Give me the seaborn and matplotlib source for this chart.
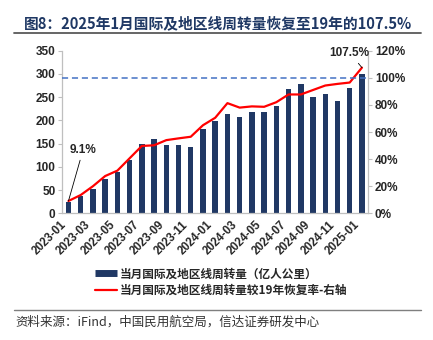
import numpy as np
import pandas as pd
import matplotlib
matplotlib.use("Agg")
import matplotlib.pyplot as plt
from matplotlib.lines import Line2D
from matplotlib.ticker import FuncFormatter, FixedLocator
import seaborn as sns

months = ["2023-01", "2023-02", "2023-03", "2023-04", "2023-05", "2023-06", "2023-07",
          "2023-08", "2023-09", "2023-10", "2023-11", "2023-12", "2024-01", "2024-02",
          "2024-03", "2024-04", "2024-05", "2024-06", "2024-07", "2024-08", "2024-09",
          "2024-10", "2024-11", "2024-12", "2025-01"]
volume = [25, 37, 52, 74, 88, 115, 149, 159, 147, 148, 143, 181, 199,
          214, 208, 218, 219, 232, 268, 279, 250, 256, 242, 269, 300]
recovery = [0.091, 0.135, 0.20, 0.275, 0.315, 0.406, 0.497, 0.502, 0.54, 0.553, 0.565,
            0.65, 0.705, 0.813, 0.78, 0.789, 0.786, 0.82, 0.877, 0.877, 0.91, 0.943,
            0.955, 0.965, 1.075]
left_ticks = [0, 50, 100, 150, 200, 250, 300, 350]
right_ticks = [0, 0.2, 0.4, 0.6, 0.8, 1.0, 1.2]

title = "图8：2025年1月国际及地区线周转量恢复至19年的107.5%"
bar_label = "当月国际及地区线周转量（亿人公里）"
line_label = "当月国际及地区线周转量较19年恢复率-右轴"
source = "资料来源：iFind，中国民用航空局，信达证券研发中心"

sns.set_theme(style="white")
plt.rcParams["font.family"] = ["Liberation Sans", "Noto Sans CJK SC", "DejaVu Sans"]

NAVY = "#203864"
RED = "#FF0000"
GREY = "#BFBFBF"

df = pd.DataFrame({"month": months, "volume": volume, "recovery": recovery})
df["pos"] = np.arange(len(df))

fig = plt.figure(figsize=(4.33, 3.40), dpi=100)
ax = fig.add_axes([0.144, 0.3726, 0.706, 0.4783])

sns.barplot(data=df, x="month", y="volume", color=NAVY, width=0.45, ax=ax,
            saturation=1, edgecolor="none")
ax.set_xlim(-0.5, len(months) - 0.5)
ax.set_ylim(0, 350)
ax.set_yticks(left_ticks)
ax.set_xlabel("")
ax.set_ylabel("")

ax2 = ax.twinx()
sns.lineplot(data=df, x="pos", y="recovery", color=RED, lw=1.6, ax=ax2)
ax2.set_ylim(0, 1.2)
ax2.set_yticks(right_ticks)
ax2.yaxis.set_major_formatter(FuncFormatter(lambda v, p: f"{v*100:.0f}%"))
ax2.set_xlim(-0.5, len(months) - 0.5)
ax2.set_xlabel("")
ax2.set_ylabel("")
ax2.axhline(1.0, color="#4472C4", lw=1.1, ls=(0, (4, 2.5)))

# x ticks: marks between categories, labels every other month
ax.xaxis.set_major_locator(FixedLocator(np.arange(-0.5, len(months) - 1, 2)))
ax.xaxis.set_major_formatter(FuncFormatter(lambda v, p: ""))
ax.set_xticks(df["pos"][::2].values, minor=True)
ax.set_xticklabels(df["month"][::2].values, minor=True, rotation=45, ha="right",
                   rotation_mode="default", fontsize=8.3, fontweight="bold")
ax.tick_params(axis="x", which="major", length=3, width=0.8, color=GREY, direction="out")
ax.tick_params(axis="x", which="minor", length=0, pad=4)
ax.tick_params(axis="y", length=3, width=0.8, color=GREY, direction="out", labelsize=8.5, pad=2)
ax2.tick_params(axis="y", length=3, width=0.8, color=GREY, direction="out", labelsize=8.5, pad=2)
for lab in ax.get_yticklabels() + ax2.get_yticklabels():
    lab.set_fontweight("bold")

for a in (ax, ax2):
    a.spines["top"].set_visible(False)
    for s in ("left", "right", "bottom"):
        a.spines[s].set_color(GREY)
        a.spines[s].set_linewidth(0.9)
ax.spines["right"].set_visible(False)
ax2.spines["left"].set_visible(False)
ax2.spines["bottom"].set_visible(False)

ax2.annotate(f"{recovery[0]*100:.1f}%", xy=(0, recovery[0]), xytext=(1.2, 0.47),
             ha="center", va="center", fontsize=8.5, fontweight="bold",
             arrowprops=dict(arrowstyle="-", color="black", lw=0.6, shrinkA=1, shrinkB=0))
ax2.annotate(f"{recovery[-1]*100:.1f}%", xy=(24, recovery[-1]), xytext=(23.0, 1.183),
             ha="center", va="center", fontsize=8.5, fontweight="bold",
             arrowprops=dict(arrowstyle="-", color="black", lw=0.6, shrinkA=1, shrinkB=0),
             annotation_clip=False)

# title and rule
fig.text(0.504, 0.932, title, ha="center", va="center", fontsize=10.6, fontweight="bold",
         color="#1F3864", family=["Noto Sans CJK SC", "DejaVu Sans"])
fig.add_artist(Line2D([14/433, 421/433], [1-33/340, 1-33/340], color="#595959", lw=1.3))

# legend
handles = [Line2D([], [], color=NAVY, lw=5, solid_capstyle="butt"),
           Line2D([], [], color=RED, lw=1.6)]
leg = fig.legend(handles, [bar_label, line_label], loc="upper left",
                 bbox_to_anchor=(84/433, 1-257/340), frameon=False,
                 handlelength=1.9, handletextpad=0.25, labelspacing=0.3,
                 prop=dict(family=["Noto Sans CJK SC", "DejaVu Sans"], size=8.4, weight="bold"))

# source
fig.add_artist(Line2D([14/433, 421/433], [1-310/340, 1-310/340], color="#7F7F7F", lw=1.0))
fig.text(15/433, 1-322/340, source, ha="left", va="center", fontsize=9,
         color="#333333", family=["Noto Sans CJK SC", "DejaVu Sans"], style="italic")

fig.savefig("out.png", dpi=100)
